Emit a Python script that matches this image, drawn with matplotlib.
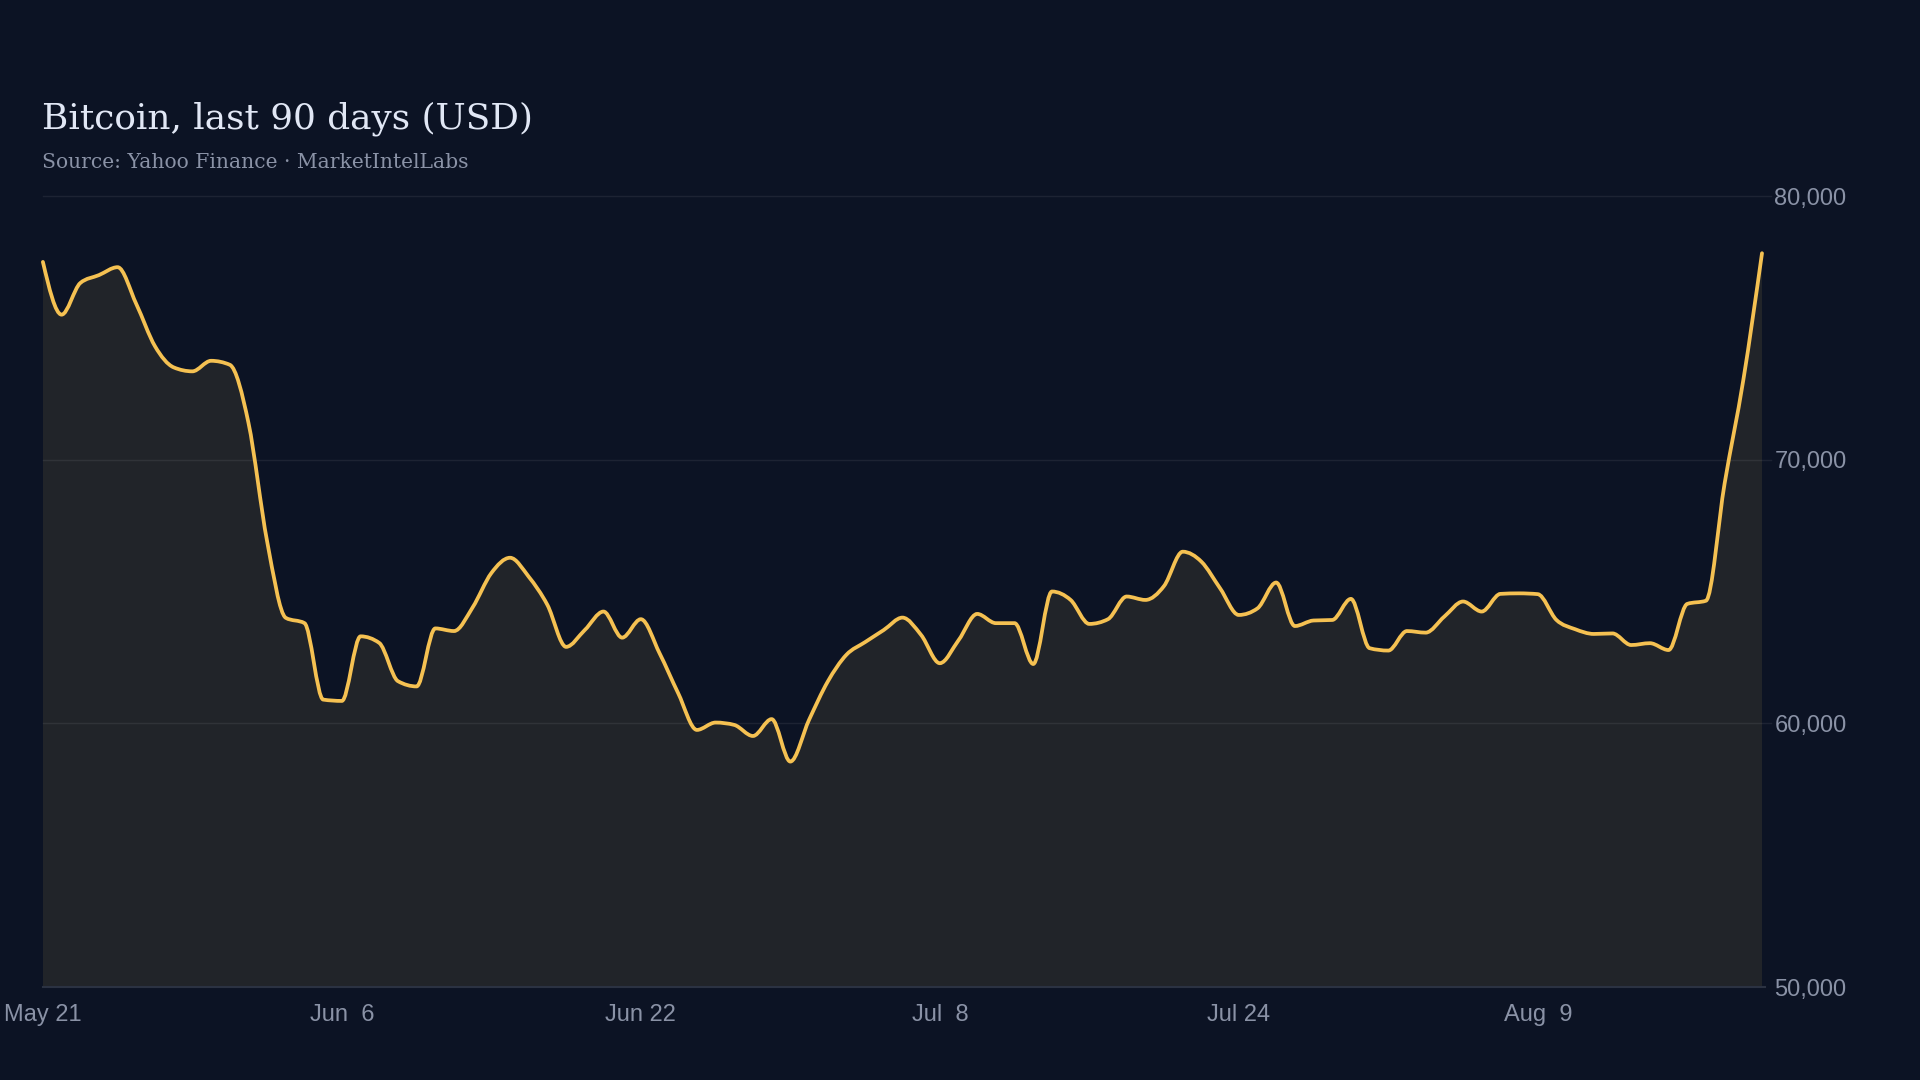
import numpy as np
import pandas as pd
import matplotlib
matplotlib.use("Agg")
import matplotlib.pyplot as plt
import matplotlib.dates as mdates
from matplotlib.path import Path
from matplotlib.patches import PathPatch
from matplotlib.ticker import FuncFormatter

# daily closes
start_date = "2024-05-21"
prices = [
    77500, 75500, 76700, 77000, 77300, 75900, 74300, 73500, 73350, 73750,
    73600, 71400, 66900, 64000, 63800, 60900, 60850, 63300, 63050, 61600,
    61400, 63600, 63500, 64400, 65700, 66280, 65560, 64490, 62900, 63540,
    64240, 63250, 63950, 62660, 61140, 59750, 60030, 59940, 59520, 60160,
    58550, 60130, 61580, 62600, 63080, 63540, 64010, 63350, 62280, 63150,
    64150, 63800, 63800, 62250, 65000, 64680, 63770, 63950, 64810, 64680,
    65210, 66510, 66130, 65120, 64110, 64360, 65340, 63690, 63900, 63920,
    64720, 62850, 62760, 63500, 63440, 64050, 64620, 64240, 64910, 64930,
    64900, 63920, 63570, 63390, 63410, 62970, 63040, 62780, 64530, 64650,
    69100, 73020, 77830,
]
tick_dates = ["2024-05-21", "2024-06-06", "2024-06-22", "2024-07-08", "2024-07-24", "2024-08-09"]
y_ticks = [50000, 60000, 70000, 80000]

title = "Bitcoin, last 90 days (USD)"
subtitle = "Source: Yahoo Finance \u00b7 MarketIntelLabs"

BG = "#0c1324"
FILL = "#212429"
LINE = "#f5c152"
MUTED = "#8a92a6"


def monotone_path(x, y, base=None):
    # cubic bezier path through the points, like d3.curveMonotoneX
    x = np.asarray(x, float)
    y = np.asarray(y, float)
    n = len(x)
    h = np.diff(x)
    s = np.diff(y) / h
    t = np.zeros(n)
    for i in range(1, n - 1):
        p = (s[i - 1] * h[i] + s[i] * h[i - 1]) / (h[i - 1] + h[i])
        t[i] = (np.sign(s[i - 1]) + np.sign(s[i])) * min(abs(s[i - 1]), abs(s[i]), 0.5 * abs(p))
    t[0] = (3 * s[0] - t[1]) / 2
    t[-1] = (3 * s[-1] - t[-2]) / 2
    verts = [(x[0], y[0])]
    codes = [Path.MOVETO]
    for i in range(n - 1):
        dx = h[i] / 3
        verts += [(x[i] + dx, y[i] + dx * t[i]),
                  (x[i + 1] - dx, y[i + 1] - dx * t[i + 1]),
                  (x[i + 1], y[i + 1])]
        codes += [Path.CURVE4] * 3
    if base is not None:
        verts += [(x[-1], base), (x[0], base), (x[0], y[0])]
        codes += [Path.LINETO, Path.LINETO, Path.CLOSEPOLY]
    return Path(verts, codes)


dates = pd.date_range(start_date, periods=len(prices), freq="D")
xs = mdates.date2num(dates)

fig = plt.figure(figsize=(19.2, 10.8), dpi=100, facecolor=BG)
ax = fig.add_axes([42.9 / 1920, 1 - 987 / 1080, (1762 - 42.9) / 1920, (987 - 196) / 1080])
ax.set_facecolor(BG)

ax.set_xlim(xs[0], xs[-1])
ax.set_ylim(50000, 80000)

# area under the line
ax.add_patch(PathPatch(monotone_path(xs, prices, base=50000), facecolor=FILL, edgecolor="none", zorder=1))

# grid lines, a bit past the right edge
for v in y_ticks[1:]:
    ax.axhline(v, xmin=0, xmax=1.005, color="white", alpha=0.07, lw=1, zorder=2, clip_on=False)
ax.axhline(50000, xmin=0, xmax=1.002, color="#2b3242", lw=1.5, zorder=2, clip_on=False)

ax.add_patch(PathPatch(monotone_path(xs, prices), facecolor="none", edgecolor=LINE, lw=2.7,
                       capstyle="round", joinstyle="round", zorder=3, clip_on=False))

for sp in ax.spines.values():
    sp.set_visible(False)

ax.set_xticks(mdates.date2num(pd.to_datetime(tick_dates)))
ax.xaxis.set_major_formatter(mdates.DateFormatter("%b %e"))
ax.set_yticks(y_ticks)
ax.yaxis.set_major_formatter(FuncFormatter(lambda v, p: f"{int(v):,}"))
ax.yaxis.tick_right()
ax.tick_params(axis="both", length=0, colors=MUTED, labelsize=17)
ax.tick_params(axis="x", pad=12)
ax.tick_params(axis="y", pad=9)
for lab in ax.get_xticklabels() + ax.get_yticklabels():
    lab.set_fontfamily("Liberation Sans")

fig.text(41.7 / 1920, 1 - 129 / 1080, title, fontsize=25.8, family="DejaVu Serif",
         color="#e1e7f5", va="baseline", ha="left")
fig.text(41.7 / 1920, 1 - 167.7 / 1080, subtitle, fontsize=14.6, family="DejaVu Serif",
         color=MUTED, va="baseline", ha="left")

fig.savefig("out.png", dpi=100, facecolor=BG)
